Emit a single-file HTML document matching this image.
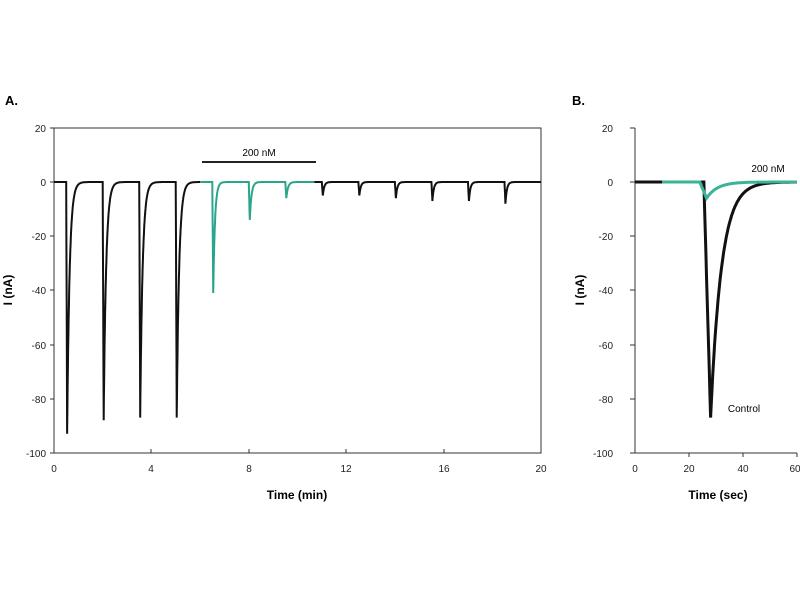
<!DOCTYPE html>
<html><head><meta charset="utf-8"><style>
body{margin:0;background:#fff;}
svg text{font-family:"Liberation Sans",Arial,sans-serif;}
</style></head><body>
<svg id="s" width="800" height="600" viewBox="0 0 800 600" xmlns="http://www.w3.org/2000/svg">
<rect width="800" height="600" fill="#fff"/>
<text x="5" y="105" font-size="13" font-weight="bold">A.</text>
<text x="572" y="105" font-size="13" font-weight="bold">B.</text>
<g stroke="#333" stroke-width="1" fill="none">
<rect x="54" y="128" width="487" height="325"/>
<line x1="50" y1="128" x2="54" y2="128"/><line x1="50" y1="182" x2="54" y2="182"/>
<line x1="50" y1="236" x2="54" y2="236"/><line x1="50" y1="290" x2="54" y2="290"/>
<line x1="50" y1="345" x2="54" y2="345"/><line x1="50" y1="399" x2="54" y2="399"/>
<line x1="50" y1="453" x2="54" y2="453"/>
<line x1="151" y1="453" x2="151" y2="449"/><line x1="249" y1="453" x2="249" y2="449"/>
<line x1="346" y1="453" x2="346" y2="449"/><line x1="444" y1="453" x2="444" y2="449"/>
</g>
<g font-size="10" fill="#222" text-anchor="end">
<text x="46" y="132">20</text><text x="46" y="186">0</text><text x="46" y="240">-20</text>
<text x="46" y="294">-40</text><text x="46" y="349">-60</text><text x="46" y="403">-80</text>
<text x="46" y="457">-100</text>
</g>
<g font-size="10" fill="#222" text-anchor="middle">
<text x="54" y="472">0</text><text x="151" y="472">4</text><text x="249" y="472">8</text>
<text x="346" y="472">12</text><text x="444" y="472">16</text><text x="541" y="472">20</text>
</g>
<text x="297" y="499" font-size="12" font-weight="bold" text-anchor="middle">Time (min)</text>
<text x="0" y="0" font-size="12" font-weight="bold" text-anchor="middle" transform="translate(12,290) rotate(-90)">I (nA)</text>
<line x1="202" y1="162" x2="316" y2="162" stroke="#222" stroke-width="2"/>
<text x="259" y="156" font-size="10" text-anchor="middle">200 nM</text>
<g stroke="#333" stroke-width="1" fill="none">
<line x1="635" y1="128" x2="635" y2="453"/>
<line x1="635" y1="453" x2="797" y2="453"/>
<line x1="630" y1="128" x2="635" y2="128"/><line x1="630" y1="182" x2="635" y2="182"/>
<line x1="630" y1="236" x2="635" y2="236"/><line x1="630" y1="290" x2="635" y2="290"/>
<line x1="630" y1="345" x2="635" y2="345"/><line x1="630" y1="399" x2="635" y2="399"/>
<line x1="630" y1="453" x2="635" y2="453"/>
<line x1="689" y1="453" x2="689" y2="457"/><line x1="743" y1="453" x2="743" y2="457"/>
<line x1="797" y1="453" x2="797" y2="457"/>
</g>
<g font-size="10" fill="#222" text-anchor="end">
<text x="613" y="132">20</text><text x="613" y="186">0</text><text x="613" y="240">-20</text>
<text x="613" y="294">-40</text><text x="613" y="349">-60</text><text x="613" y="403">-80</text>
<text x="613" y="457">-100</text>
</g>
<g font-size="10" fill="#222" text-anchor="middle">
<text x="635" y="472">0</text><text x="689" y="472">20</text><text x="743" y="472">40</text><text x="795" y="472">60</text>
</g>
<text x="718" y="499" font-size="12" font-weight="bold" text-anchor="middle">Time (sec)</text>
<text x="0" y="0" font-size="12" font-weight="bold" text-anchor="middle" transform="translate(584,290) rotate(-90)">I (nA)</text>
<text x="768" y="172" font-size="10" text-anchor="middle">200 nM</text>
<text x="744" y="412" font-size="10" text-anchor="middle">Control</text>
<path id="a1" fill="none" stroke="#111" stroke-width="2"/>
<path id="a2" fill="none" stroke="#2aa58a" stroke-width="2"/>
<path id="a3" fill="none" stroke="#111" stroke-width="2"/>
<path id="b1" fill="none" stroke="#111" stroke-width="3"/>
<path id="b2" fill="none" stroke="#3bb395" stroke-width="3"/>
</svg>
<script>
function X(t){return 54+t*24.35;} function Y(v){return 182-v*2.708;}
function trace(t0,t1,spikes,tau){
 let d="";for(let t=t0;t<=t1+1e-9;t+=0.01){let v=0;
  for(const [ts,a] of spikes){if(t>=ts){const dt=t-ts; v+= dt<0.04? a*dt/0.04 : a*Math.exp(-(dt-0.04)/tau);}}
  d+=(d?"L":"M")+X(t).toFixed(1)+","+Y(v).toFixed(1);}
 return d;}
document.getElementById("a1").setAttribute("d",trace(0,6,[[0.5,-93],[2.0,-88],[3.5,-87],[5.0,-87]],0.1));
document.getElementById("a2").setAttribute("d",trace(6,10.7,[[6.5,-41],[8.0,-14],[9.5,-6]],0.07));
document.getElementById("a3").setAttribute("d",trace(10.7,20,[[11,-5],[12.5,-5],[14,-6],[15.5,-7],[17,-7],[18.5,-8]],0.06));
function XB(t){return 635+t*2.7;}
function tb(t0,ts,a,rise,tau){let d="";for(let t=t0;t<=60;t+=0.25){let v=0;
 if(t>=ts){const dt=t-ts; v= dt<rise? a*dt/rise : a*Math.exp(-(dt-rise)/tau);}
 d+=(d?"L":"M")+XB(t).toFixed(1)+","+Y(v).toFixed(1);}return d;}
document.getElementById("b1").setAttribute("d",tb(0,25.5,-87,2.5,4));
document.getElementById("b2").setAttribute("d",tb(10,24,-6,2.5,4));
</script>
</body></html>
